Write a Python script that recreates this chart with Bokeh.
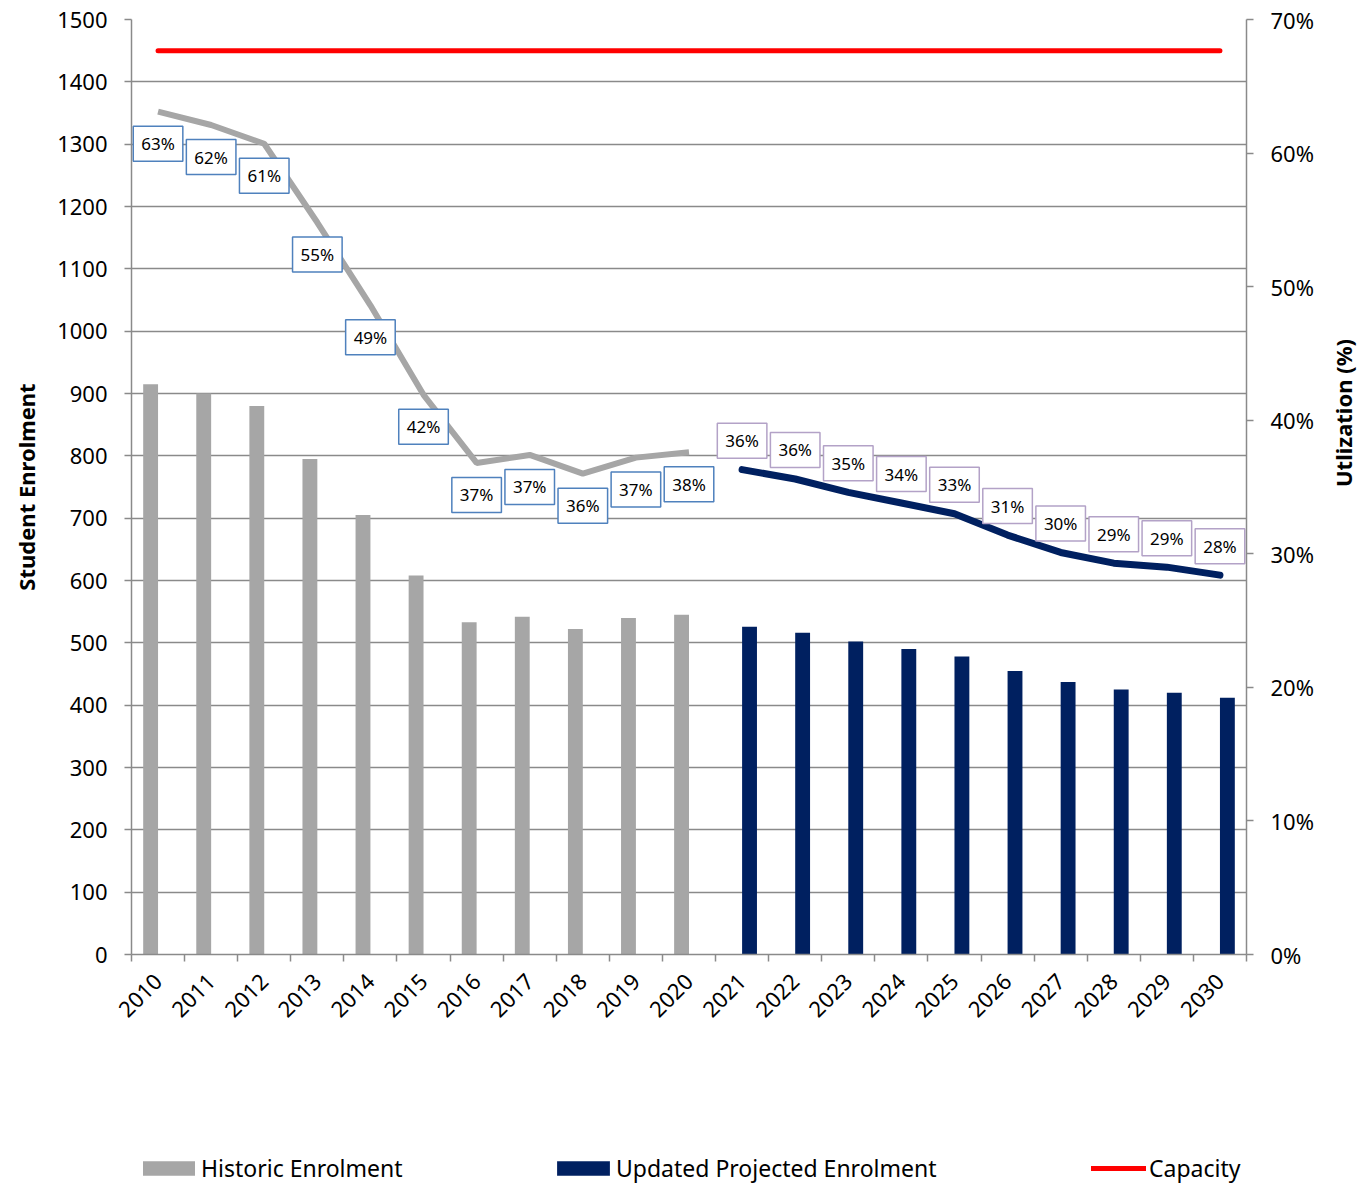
import math
from bokeh.plotting import figure
from bokeh.models import (Range1d, LinearAxis, FixedTicker, PrintfTickFormatter,
                          ColumnDataSource, Legend, LegendItem)
from bokeh.layouts import column
from bokeh.transform import dodge
from bokeh.core.properties import value
from bokeh.embed import file_html
from bokeh.resources import INLINE

# ---------------- data ----------------
hist_years = [2010, 2011, 2012, 2013, 2014, 2015, 2016, 2017, 2018, 2019, 2020]
hist_enrol = [915, 900, 880, 795, 705, 608, 533, 542, 522, 540, 545]
hist_util = [63.1, 62.1, 60.7, 54.8, 48.6, 41.9, 36.8, 37.4, 36.0, 37.2, 37.6]
hist_labels = ["63%", "62%", "61%", "55%", "49%", "42%", "37%", "37%", "36%", "37%", "38%"]

proj_years = [2021, 2022, 2023, 2024, 2025, 2026, 2027, 2028, 2029, 2030]
proj_enrol = [526, 516, 502, 490, 478, 455, 437, 425, 420, 412]
proj_util = [36.3, 35.6, 34.6, 33.8, 33.0, 31.4, 30.1, 29.3, 29.0, 28.4]
proj_labels = ["36%", "36%", "35%", "34%", "33%", "31%", "30%", "29%", "29%", "28%"]

all_years = hist_years + proj_years
capacity = [1450, 1450, 1450, 1450, 1450, 1450, 1450, 1450, 1450, 1450, 1450,
            1450, 1450, 1450, 1450, 1450, 1450, 1450, 1450, 1450, 1450]

left_ticks = [0, 100, 200, 300, 400, 500, 600, 700, 800, 900, 1000, 1100, 1200, 1300, 1400, 1500]
right_ticks = [0, 10, 20, 30, 40, 50, 60, 70]

FONT = "Noto Sans"
GREY = "#a6a6a6"
NAVY = "#002060"
AXC = "#8a8a8a"

p = figure(frame_width=1115, frame_height=935,
           x_range=Range1d(2009.5, 2030.5), y_range=Range1d(0, 1500),
           output_backend="svg", toolbar_location=None,
           min_border_left=131, min_border_top=19, min_border_right=100,
           min_border_bottom=106)
p.outline_line_color = None
p.xgrid.visible = False
p.ygrid.grid_line_color = AXC
p.ygrid.grid_line_width = 1.5
p.ygrid.ticker = FixedTicker(ticks=left_ticks)

p.extra_y_ranges = {"util": Range1d(0, 70)}

# bars
src_h = ColumnDataSource(dict(x=hist_years, top=hist_enrol))
src_p = ColumnDataSource(dict(x=proj_years, top=proj_enrol))
p.vbar(x=dodge("x", -0.14), top="top", width=0.28, source=src_h,
       fill_color=GREY, line_color=None)
p.vbar(x=dodge("x", 0.14), top="top", width=0.28, source=src_p,
       fill_color=NAVY, line_color=None)

# capacity
p.line(all_years, capacity, line_color="#ff0000", line_width=5, line_cap="round")

# utilization lines
p.line(hist_years, hist_util, y_range_name="util", line_color=GREY, line_width=6)
p.line(proj_years, proj_util, y_range_name="util", line_color=NAVY, line_width=7,
       line_cap="round", line_join="round")

# labels
p.text(x=hist_years, y=hist_util, text=hist_labels, y_range_name="util",
       y_offset=32, text_align="center", text_baseline="middle",
       text_font=value(FONT), text_font_size="17px", text_color="black",
       background_fill_color="white", border_line_color="#4f81bd",
       border_line_width=1.5, padding=(8, 6))
p.text(x=proj_years, y=proj_util, text=proj_labels, y_range_name="util",
       y_offset=-29, text_align="center", text_baseline="middle",
       text_font=value(FONT), text_font_size="17px", text_color="black",
       background_fill_color="white", border_line_color="#b3a2c7",
       border_line_width=1.5, padding=(8, 6))

# axes
xa = p.xaxis[0]
xa.ticker = FixedTicker(ticks=all_years, minor_ticks=[y - 0.5 for y in all_years] + [2030.5])
xa.major_tick_line_color = None
xa.minor_tick_line_color = AXC
xa.minor_tick_line_width = 1.5
xa.minor_tick_out = 7
xa.minor_tick_in = 0
xa.axis_line_color = AXC
xa.axis_line_width = 1.5
xa.major_label_orientation = math.pi / 4
xa.major_label_text_font = FONT
xa.major_label_text_font_size = "22px"
xa.major_label_text_color = "black"
xa.major_label_standoff = 16

ya = p.yaxis[0]
ya.ticker = FixedTicker(ticks=left_ticks)
ya.minor_tick_line_color = None
ya.major_tick_line_color = AXC
ya.major_tick_line_width = 1.5
ya.major_tick_out = 7
ya.major_tick_in = 0
ya.axis_line_color = AXC
ya.axis_line_width = 1.5
ya.major_label_text_font = FONT
ya.major_label_text_font_size = "22px"
ya.major_label_text_color = "black"
ya.major_label_standoff = 17
ya.axis_label = "Student Enrolment"
ya.axis_label_text_font = FONT
ya.axis_label_text_font_size = "22px"
ya.axis_label_text_font_style = "bold"
ya.axis_label_text_color = "black"
ya.axis_label_standoff = 13

ra = LinearAxis(y_range_name="util", ticker=FixedTicker(ticks=right_ticks),
                formatter=PrintfTickFormatter(format="%d%%"))
ra.minor_tick_line_color = None
ra.major_tick_line_color = AXC
ra.major_tick_line_width = 1.5
ra.major_tick_out = 7
ra.major_tick_in = 0
ra.axis_line_color = AXC
ra.axis_line_width = 1.5
ra.major_label_text_font = FONT
ra.major_label_text_font_size = "22px"
ra.major_label_text_color = "black"
ra.major_label_standoff = 17
ra.axis_label = "Utlization (%)"
ra.axis_label_orientation = math.pi / 2
ra.axis_label_text_font = FONT
ra.axis_label_text_font_size = "22px"
ra.axis_label_text_font_style = "bold"
ra.axis_label_text_color = "black"
ra.axis_label_standoff = 26
p.add_layout(ra, "right")

# legend strip: its renderers use the real sources but lie below its view
p2 = figure(frame_width=1115, frame_height=125,
            x_range=Range1d(2009.5, 2030.5), y_range=Range1d(5000, 6000),
            output_backend="svg", toolbar_location=None,
            min_border_left=131, min_border_right=100, min_border_top=0, min_border_bottom=0)
p2.axis.visible = False
p2.grid.visible = False
p2.outline_line_color = None
r1 = p2.vbar(x="x", top="top", width=0.28, source=src_h, fill_color=GREY, line_color=None)
r2 = p2.vbar(x="x", top="top", width=0.28, source=src_p, fill_color=NAVY, line_color=None)
r3 = p2.line(all_years, capacity, line_color="#ff0000", line_width=5, line_cap="round")

def mk_legend(label, r, loc, gw, gap):
    lg = Legend(items=[LegendItem(label=label, renderers=[r])], location=loc,
                border_line_color=None, background_fill_alpha=0, padding=0, margin=0,
                glyph_width=gw, glyph_height=18, label_standoff=gap,
                label_text_font=FONT, label_text_font_size="23px",
                label_text_color="black")
    p2.add_layout(lg, "center")

mk_legend("Historic Enrolment", r1, (5, 1), 65, 0)
mk_legend("Updated Projected Enrolment", r2, (419, 1), 66, 0)
mk_legend("Capacity", r3, (960, 1), 55, 3)

layout = column(p, p2, spacing=0)
open("out.html", "w").write(file_html(layout, INLINE))
